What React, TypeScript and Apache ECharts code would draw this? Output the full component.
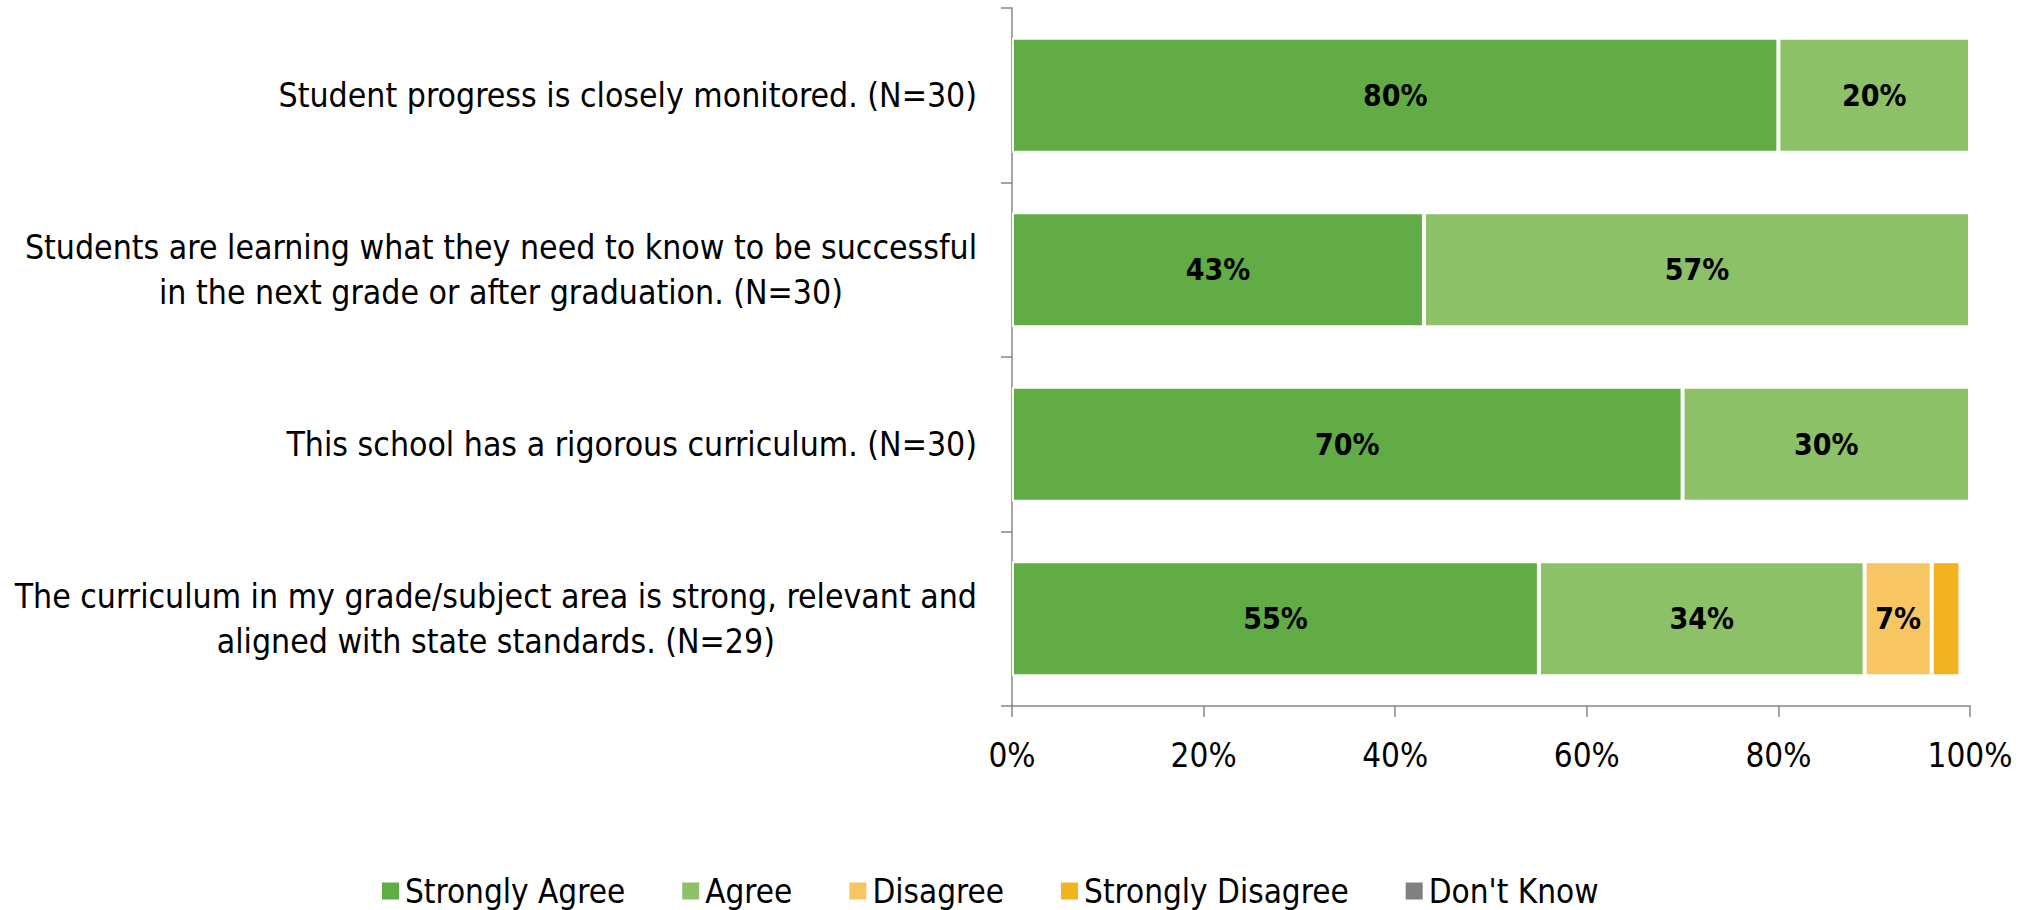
import React, { useEffect, useRef } from "react";
import * as echarts from "echarts";

const categories = [
  "Student progress is closely monitored. (N=30)",
  "Students are learning what they need to know to be successful\nin the next grade or after graduation. (N=30)",
  "This school has a rigorous curriculum. (N=30)",
  "The curriculum in my grade/subject area is strong, relevant and\naligned with state standards. (N=29)",
];

const seriesNames = ["Strongly Agree", "Agree", "Disagree", "Strongly Disagree", "Don't Know"];
const stronglyAgree = [80, 43, 70, 55];
const agree = [20, 57, 30, 34];
const disagree = [0, 0, 0, 7];
const stronglyDisagree = [0, 0, 0, 3];
const dontKnow = [0, 0, 0, 0];
const seriesColors = ["#62AC46", "#8CC168", "#F7C662", "#F2B31E", "#808080"];
const xTicks = [0, 20, 40, 60, 80, 100];

const FONT = "'DejaVu Sans Condensed', sans-serif";

export default function App() {
  const ref = useRef<HTMLDivElement>(null);
  useEffect(() => {
    if (!ref.current) return;
    document.body.style.margin = "0";
    const chart = echarts.init(ref.current, null, { renderer: "svg" });
    const values = [stronglyAgree, agree, disagree, stronglyDisagree, dontKnow];
    chart.setOption({
      animation: false,
      textStyle: { fontFamily: FONT },
      grid: {
        left: 1012,
        right: 60,
        top: 8,
        bottom: 204,
        containLabel: false,
        outerBoundsMode: "none",
      },
      legend: {
        data: seriesNames,
        bottom: 1,
        left: 380,
        padding: 0,
        icon: "rect",
        itemWidth: 19,
        itemHeight: 19,
        itemGap: 55,
        textStyle: { fontFamily: FONT, fontSize: 33, color: "#000", lineHeight: 36 },
      },
      xAxis: {
        type: "value",
        min: xTicks[0],
        max: xTicks[xTicks.length - 1],
        interval: 20,
        axisLine: { show: true, lineStyle: { color: "#868686", width: 1.5 } },
        axisTick: { show: true, length: 11, lineStyle: { color: "#868686", width: 1.5 } },
        splitLine: { show: false },
        axisLabel: {
          formatter: "{value}%",
          fontFamily: FONT,
          fontSize: 33,
          color: "#000",
          margin: 33,
        },
      },
      yAxis: {
        type: "category",
        data: categories,
        inverse: true,
        axisLine: { show: true, lineStyle: { color: "#868686", width: 1.5 } },
        axisTick: { show: true, length: 11, lineStyle: { color: "#868686", width: 1.5 } },
        axisLabel: {
          margin: 35,
          align: "right",
          formatter: (v: string) =>
            v
              .split("\n")
              .map((l) => `{c|${l}}`)
              .join("\n"),
          rich: {
            c: { fontFamily: FONT, fontSize: 33.5, color: "#000", align: "center", lineHeight: 45 },
          },
        },
      },
      series: seriesNames.map((name, i) => ({
        name,
        type: "bar",
        stack: "total",
        barCategoryGap: "34%",
        data: values[i],
        itemStyle: { color: seriesColors[i], borderColor: "#fff", borderWidth: 2 },
        label: {
          show: true,
          position: "inside",
          fontFamily: FONT,
          fontWeight: "bold",
          fontSize: 30,
          color: "#000",
          formatter: (p: any) => (p.value >= 5 ? `${p.value}%` : ""),
        },
      })),
    });
    return () => chart.dispose();
  }, []);
  return <div ref={ref} style={{ width: 2030, height: 910 }} />;
}
